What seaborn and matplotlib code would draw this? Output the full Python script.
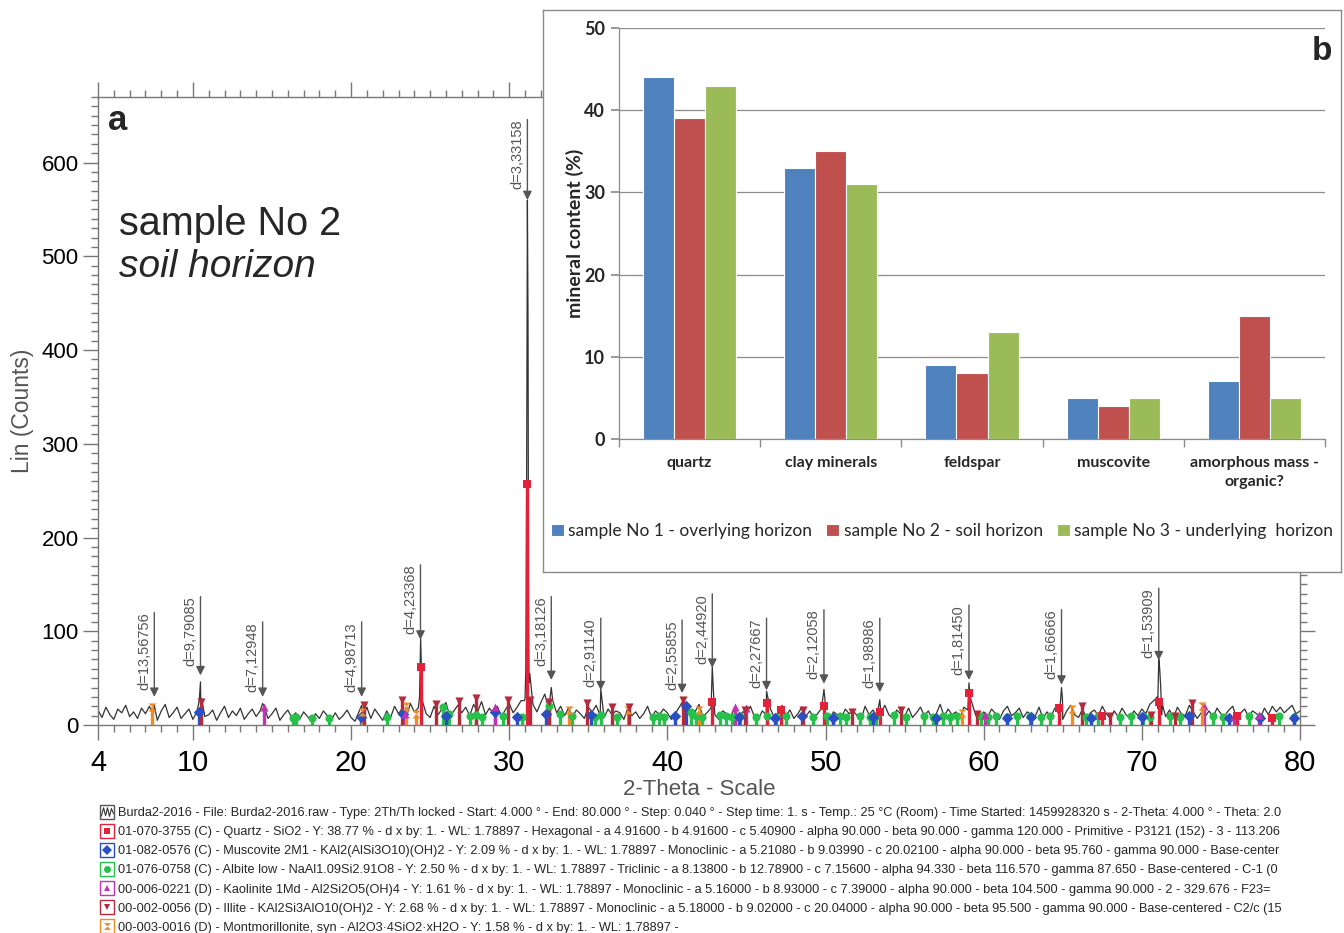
import numpy as np
import pandas as pd
import matplotlib
matplotlib.use("Agg")
import matplotlib.pyplot as plt
import seaborn as sns
from matplotlib.path import Path
from matplotlib.lines import Line2D
from matplotlib.legend_handler import HandlerTuple
from matplotlib.ticker import MultipleLocator

# ---------------- data: XRD pattern (panel a) ----------------
scan_start, scan_step = 4.0, 0.25
baseline_counts = [
    16, 8, 19, 11, 6, 17, 13, 21, 9, 14, 7, 18, 12, 20, 10, 5, 15, 22, 8, 13,
    19, 7, 12, 17, 6, 14, 21, 9, 11, 16, 5, 13, 20, 8, 15, 10, 18, 6, 12, 17,
    9, 15, 20, 7, 12, 18, 5, 11, 16, 8, 13, 6, 14, 9, 4, 12, 7, 15, 10, 5,
    13, 6, 10, 16, 8, 4, 14, 9, 19, 7, 17, 11, 5, 15, 8, 20, 12, 18, 9, 23,
    14, 18, 26, 12, 8, 20, 11, 17, 24, 9, 15, 21, 13, 19, 10, 22, 14, 25, 11, 18,
    12, 20, 9, 16, 23, 13, 19, 26, 28, 45, 22, 14, 24, 33, 17, 26, 13, 20, 10, 18,
    9, 16, 12, 7, 19, 14, 21, 10, 8, 17, 11, 15, 13, 6, 18, 10, 14, 7, 12, 20,
    8, 15, 11, 17, 13, 6, 12, 19, 10, 16, 7, 14, 22, 9, 13, 18, 11, 6, 15, 12,
    10, 17, 7, 14, 12, 20, 9, 6, 15, 11, 18, 8, 13, 21, 10, 16, 7, 12, 19, 9,
    15, 8, 12, 18, 10, 6, 14, 11, 7, 17, 12, 15, 10, 6, 20, 11, 16, 9, 13, 21,
    11, 7, 16, 12, 9, 18, 8, 13, 19, 10, 15, 6, 12, 22, 9, 17, 11, 14, 7, 19,
    16, 24, 10, 7, 14, 9, 17, 12, 6, 15, 20, 10, 13, 18, 8, 14, 11, 9, 19, 7,
    14, 9, 18, 12, 6, 15, 21, 11, 8, 17, 7, 13, 16, 10, 20, 12, 7, 15, 9, 18,
    11, 7, 15, 10, 17, 12, 22, 26, 18, 11, 9, 16, 8, 19, 12, 10, 21, 14, 7, 13,
    9, 15, 8, 18, 12, 10, 16, 20, 7, 13, 17, 9, 15, 12, 8, 18, 11, 20, 14, 19,
    13, 17, 21, 12, 15,
]
peak_theta = [7.56, 10.40, 10.48, 10.55, 14.41, 20.67, 24.33, 24.40, 24.45, 24.52,
              30.95, 31.05, 31.10, 31.15, 31.19, 31.22, 31.30, 32.66, 35.79, 40.93,
              42.78, 42.84, 42.90, 46.27, 49.90, 49.96, 53.43, 59.07, 59.13,
              64.85, 64.92, 64.98, 70.98, 71.07, 71.13, 71.20, 71.30]
peak_counts = [21, 26, 46, 28, 23, 21, 30, 92, 60, 25,
               26, 60, 250, 560, 430, 150, 55, 40, 38, 24,
               28, 62, 40, 36, 38, 28, 27, 45, 30,
               24, 40, 28, 30, 70, 60, 38, 22]

# d-spacing annotations
d_labels = ["d=13,56756", "d=9,79085", "d=7,12948", "d=4,98713", "d=4,23368",
            "d=3,33158", "d=3,18126", "d=2,91140", "d=2,55855", "d=2,44920",
            "d=2,27667", "d=2,12058", "d=1,98986", "d=1,81450", "d=1,66666",
            "d=1,53909"]
d_theta = [7.56, 10.48, 14.41, 20.67, 24.39, 31.15, 32.66, 35.79, 40.93, 42.84,
           46.27, 49.90, 53.43, 59.07, 64.92, 71.07]
d_tip = [30, 53, 30, 30, 91, 560, 48, 37, 34, 61, 37, 44, 35, 48, 43, 69]
d_top = [120, 137, 110, 110, 171, 646, 137, 114, 112, 140, 114, 123, 114, 128, 123, 146]

# reference phase sticks
quartz_pos = [24.40, 31.15, 42.84, 46.27, 47.2, 49.90, 53.43, 59.07, 64.75, 67.5, 71.07, 76.0, 78.2]
quartz_h = [62, 257, 25, 24, 16, 20, 14, 34, 18, 10, 25, 10, 8]
muscovite_pos = [10.4, 20.6, 23.3, 26.0, 29.1, 30.5, 32.3, 35.2, 40.5, 41.2, 44.5, 46.8,
                 48.5, 50.5, 53.0, 57.0, 61.5, 63.0, 66.8, 70.0, 73.0, 75.5, 77.5, 79.6]
muscovite_h = [14, 9, 12, 10, 14, 9, 12, 11, 10, 20, 9, 8, 10, 7, 9, 8, 7, 9, 7, 9, 10, 8, 7, 8]
albite_pos = [16.3, 16.5, 17.5, 18.6, 22.3, 25.8, 26.2, 27.5, 27.9, 28.3, 29.6, 30.8,
              32.5, 33.2, 34.0, 35.4, 35.8, 36.8, 39.1, 39.5, 39.8, 41.5, 41.8, 42.2,
              43.3, 43.7, 44.1, 44.6, 45.6, 46.3, 46.9, 47.5, 49.2, 50.1, 50.5, 50.9,
              51.3, 52.2, 52.8, 53.2, 54.3, 55.1, 56.2, 56.8, 57.4, 57.9, 58.3, 59.8,
              60.3, 60.8, 61.5, 62.1, 62.9, 63.6, 64.2, 66.5, 67.2, 68.6, 69.3, 70.1,
              70.5, 71.8, 72.4, 74.5, 75.1, 76.8, 77.5, 78.7, 79.6]
albite_h = [8, 9, 8, 8, 9, 19, 12, 10, 11, 9, 10, 9,
            20, 12, 10, 9, 11, 9, 9, 10, 9, 14, 10, 9,
            11, 10, 9, 10, 9, 10, 9, 10, 9, 10, 9, 10,
            9, 10, 9, 10, 11, 9, 10, 9, 10, 9, 10, 10,
            9, 10, 9, 10, 10, 9, 10, 9, 10, 9, 10, 10,
            9, 10, 9, 10, 9, 10, 9, 10, 9]
kaolinite_pos = [14.5, 23.4, 29.1, 44.3, 45.0, 60.1, 73.9, 75.8, 77.4]
kaolinite_h = [19, 12, 19, 19, 18, 11, 20, 10, 11]
illite_pos = [10.5, 20.8, 23.2, 25.4, 26.8, 27.9, 29.9, 31.3, 32.5, 34.9, 36.5, 37.6,
              41.0, 44.9, 48.6, 51.7, 54.8, 59.6, 66.2, 68.0, 70.6, 72.1, 73.2]
illite_h = [25, 21, 27, 22, 26, 29, 27, 27, 25, 23, 19, 19,
            27, 16, 16, 14, 16, 12, 20, 10, 11, 10, 23]
montm_pos = [7.4, 20.7, 23.5, 24.1, 33.8, 37.5, 42.0, 58.6, 65.6, 73.8]
montm_h = [19, 14, 20, 12, 16, 16, 16, 13, 17, 20]

phase_legend_labels = [
    "Burda2-2016 - File: Burda2-2016.raw - Type: 2Th/Th locked - Start: 4.000 ° - End: 80.000 ° - Step: 0.040 ° - Step time: 1. s - Temp.: 25 °C (Room) - Time Started: 1459928320 s - 2-Theta: 4.000 ° - Theta: 2.0",
    "01-070-3755 (C) - Quartz - SiO2 - Y: 38.77 % - d x by: 1. - WL: 1.78897 - Hexagonal - a 4.91600 - b 4.91600 - c 5.40900 - alpha 90.000 - beta 90.000 - gamma 120.000 - Primitive - P3121 (152) - 3 - 113.206",
    "01-082-0576 (C) - Muscovite 2M1 - KAl2(AlSi3O10)(OH)2 - Y: 2.09 % - d x by: 1. - WL: 1.78897 - Monoclinic - a 5.21080 - b 9.03990 - c 20.02100 - alpha 90.000 - beta 95.760 - gamma 90.000 - Base-center",
    "01-076-0758 (C) - Albite low - NaAl1.09Si2.91O8 - Y: 2.50 % - d x by: 1. - WL: 1.78897 - Triclinic - a 8.13800 - b 12.78900 - c 7.15600 - alpha 94.330 - beta 116.570 - gamma 87.650 - Base-centered - C-1 (0",
    "00-006-0221 (D) - Kaolinite 1Md - Al2Si2O5(OH)4 - Y: 1.61 % - d x by: 1. - WL: 1.78897 - Monoclinic - a 5.16000 - b 8.93000 - c 7.39000 - alpha 90.000 - beta 104.500 - gamma 90.000 - 2 - 329.676 - F23=",
    "00-002-0056 (D) - Illite - KAl2Si3AlO10(OH)2 - Y: 2.68 % - d x by: 1. - WL: 1.78897 - Monoclinic - a 5.18000 - b 9.02000 - c 20.04000 - alpha 90.000 - beta 95.500 - gamma 90.000 - Base-centered - C2/c (15",
    "00-003-0016 (D) - Montmorillonite, syn - Al2O3·4SiO2·xH2O - Y: 1.58 % - d x by: 1. - WL: 1.78897 -",
]

# ---------------- data: mineral content (panel b) ----------------
minerals = ["quartz", "clay minerals", "feldspar", "muscovite", "amorphous mass -\norganic?"]
sample_names = ["sample No 1 - overlying horizon", "sample No 2 - soil horizon",
                "sample No 3 - underlying  horizon"]
sample1 = [44, 33, 9, 5, 7]
sample2 = [39, 35, 8, 4, 15]
sample3 = [43, 31, 13, 5, 5]

# ---------------- style ----------------
sns.set_theme(style="ticks")
ARIAL = ["Liberation Sans", "DejaVu Sans"]
CALIBRI = ["Lato", "DejaVu Sans"]
plt.rcParams["font.family"] = ARIAL

W, H = 1344, 933
def rect(l, t, r, b):
    return [l / W, 1 - b / H, (r - l) / W, (b - t) / H]

fig = plt.figure(figsize=(W / 100, H / 100), dpi=100)
fig.patch.set_facecolor("white")

# ---------------- panel a ----------------
ax = fig.add_axes(rect(98, 97, 1300, 725))
scan_theta = scan_start + scan_step * np.arange(len(baseline_counts))
trace = pd.DataFrame({"theta": np.concatenate([scan_theta, peak_theta]),
                      "counts": np.concatenate([baseline_counts, peak_counts])})
trace = trace.sort_values("theta")
sns.lineplot(data=trace, x="theta", y="counts", ax=ax, color="#333333", lw=0.9,
             sort=False, estimator=None, zorder=2)

hourglass = Path([(-1, 1), (1, 1), (-1, -1), (1, -1), (-1, 1)],
                 [Path.MOVETO, Path.LINETO, Path.LINETO, Path.LINETO, Path.CLOSEPOLY])
phases = [
    (albite_pos, albite_h, "#27c04a", "o"),
    (muscovite_pos, muscovite_h, "#2a4fc4", "D"),
    (kaolinite_pos, kaolinite_h, "#c232b2", "^"),
    (montm_pos, montm_h, "#f08c28", hourglass),
    (illite_pos, illite_h, "#b32a3c", "v"),
    (quartz_pos, quartz_h, "#e2223a", "s"),
]
for pos, hh, col, mk in phases:
    ax.vlines(pos, 0, hh, color=col, lw=2.4, zorder=3)
    sns.scatterplot(x=pos, y=hh, marker=mk, color=col, s=34, linewidth=0, ax=ax, zorder=4)

for lab, th, tip, top in zip(d_labels, d_theta, d_tip, d_top):
    ax.annotate("", xy=(th, tip), xytext=(th, top),
                arrowprops=dict(arrowstyle="-|>", color="#555555", lw=1.0,
                                mutation_scale=13, shrinkA=0, shrinkB=0))
    ax.text(th - 0.2, top, lab, rotation=90, ha="right", va="top", fontsize=10.5,
            color="#555555")

ax.set_xlim(4, 80)
ax.set_ylim(0, 670)
ax.set_xticks([4, 10, 20, 30, 40, 50, 60, 70, 80])
ax.xaxis.set_minor_locator(MultipleLocator(1))
ax.set_yticks(range(0, 700, 100))
ax.yaxis.set_minor_locator(MultipleLocator(10))
ax.tick_params(which="both", direction="out", top=True, right=True, color="#777777", width=1)
ax.tick_params(which="major", length=11)
ax.tick_params(which="minor", length=5)
ax.tick_params(axis="x", which="major", labelsize=21, pad=6, labelcolor="black")
ax.tick_params(axis="y", which="major", labelsize=16, pad=3, labelcolor="black")
for sp in ax.spines.values():
    sp.set_color("#777777")
    sp.set_linewidth(1)
ax.set_xlabel("2-Theta - Scale", fontsize=16, color="#555555")
ax.xaxis.set_label_coords(0.5, -0.103)
ax.xaxis.label.set_va("center")
ax.set_ylabel("Lin (Counts)", fontsize=16.5, color="#555555")
ax.yaxis.set_label_coords(-0.063, 0.5)
ax.yaxis.label.set_va("center")

fig.text(108 / W, 1 - 121 / H, "a", fontsize=25, fontweight="bold", va="center")
fig.text(119 / W, 1 - 224 / H, "sample No 2", fontsize=28.5, va="center")
fig.text(119 / W, 1 - 267 / H, "soil horizon", fontsize=28, style="italic", va="center")

# phase legend below panel a
zig = Path([(-0.8, -0.5), (-0.5, 0.6), (-0.25, -0.4), (0.0, 0.6), (0.25, -0.5), (0.5, 0.5), (0.8, -0.2)])
leg_colors = ["#555555", "#e2223a", "#2a4fc4", "#27c04a", "#c232b2", "#b32a3c", "#f08c28"]
leg_markers = [zig, "s", "D", "o", "^", "v", hourglass]
handles = []
for c, m in zip(leg_colors, leg_markers):
    box = Line2D([], [], ls="None", marker="s", markersize=10, markerfacecolor="white",
                 markeredgecolor=c, markeredgewidth=1.0)
    if m is zig:
        inner = Line2D([], [], ls="None", marker=m, markersize=9, markerfacecolor="none",
                       markeredgecolor="#333333", markeredgewidth=0.8, fillstyle="none")
    else:
        inner = Line2D([], [], ls="None", marker=m, markersize=5, color=c, markeredgewidth=0)
    handles.append((box, inner))
fig.legend(handles, phase_legend_labels, handler_map={tuple: HandlerTuple(ndivide=1)},
           loc="upper left", bbox_to_anchor=(101 / W, 1 - 807 / H), frameon=False,
           borderpad=0, borderaxespad=0, handlelength=1.0, handletextpad=0.3,
           labelspacing=0.56, prop=dict(size=9.2))

# ---------------- panel b (inset) ----------------
ax_box = fig.add_axes(rect(543, 10, 1341, 572))
ax_box.set_facecolor("white")
ax_box.set_xticks([])
ax_box.set_yticks([])
for sp in ax_box.spines.values():
    sp.set_color("#8a8a8a")
    sp.set_linewidth(1.0)

axb = fig.add_axes(rect(619, 28, 1325, 439))
bars = pd.DataFrame({
    "mineral": minerals * 3,
    "content": sample1 + sample2 + sample3,
    "sample": [sample_names[0]] * 5 + [sample_names[1]] * 5 + [sample_names[2]] * 5,
})
sns.barplot(data=bars, x="mineral", y="content", hue="sample",
            palette=["#4f81bd", "#c0504d", "#9bbb59"], width=0.66, errorbar=None,
            saturation=1, edgecolor="white", linewidth=0.8, ax=axb, zorder=3)
axb.set_facecolor("white")
axb.set_xlim(-0.5, 4.5)
axb.set_ylim(0, 50)
axb.set_yticks(range(0, 60, 10))
axb.yaxis.grid(True, color="#8c8c8c", lw=0.9)
axb.set_axisbelow(True)
for s in ["top", "right"]:
    axb.spines[s].set_visible(False)
for s in ["left", "bottom"]:
    axb.spines[s].set_color("#8c8c8c")
    axb.spines[s].set_linewidth(0.9)
axb.set_xticks([-0.5, 0.5, 1.5, 2.5, 3.5, 4.5], minor=True)
axb.tick_params(axis="x", which="major", length=0, pad=12)
axb.tick_params(axis="x", which="minor", length=6, color="#8c8c8c", direction="out")
axb.tick_params(axis="y", length=6, color="#8c8c8c", direction="out", pad=4)
for t in axb.get_xticklabels():
    t.set_fontfamily(CALIBRI)
    t.set_fontweight("bold")
    t.set_fontsize(11.5)
    t.set_linespacing(1.45)
for t in axb.get_yticklabels():
    t.set_fontfamily(CALIBRI)
    t.set_fontweight("bold")
    t.set_fontsize(13)
axb.set_xlabel("")
axb.set_ylabel("mineral content (%)", fontsize=14, fontweight="bold", family=CALIBRI)
axb.yaxis.set_label_coords(-0.062, 0.5)
axb.yaxis.label.set_va("center")
hb, lb = axb.get_legend_handles_labels()
axb.legend(hb, lb, loc="center", bbox_to_anchor=(942 / W, 1 - 531 / H),
           bbox_transform=fig.transFigure, ncol=3, frameon=False,
           handlelength=0.75, handleheight=0.75, handletextpad=0.25, columnspacing=0.8,
           prop=dict(family=CALIBRI, size=12.5))

fig.text(1322 / W, 1 - 51 / H, "b", fontsize=24, fontweight="bold",
         ha="center", va="center")

fig.savefig("out.png", dpi=100, facecolor="white")
